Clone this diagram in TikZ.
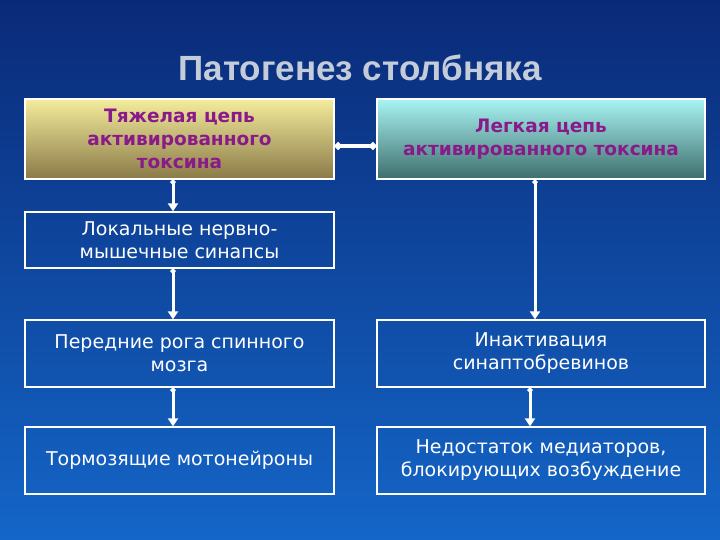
\documentclass[tikz,border=0pt]{standalone}
\usepackage{fontspec}
\setmainfont{DejaVu Sans}
\newfontfamily\titlefont{Liberation Sans}
\usetikzlibrary{arrows.meta}
\definecolor{bgtop}{HTML}{0A2A78}
\definecolor{bgbot}{HTML}{1466C8}
\definecolor{tt}{HTML}{8A1A8A}
\definecolor{gtop}{HTML}{F4EC9C}
\definecolor{gbot}{HTML}{8A7A48}
\definecolor{ctop}{HTML}{A8F4F4}
\definecolor{cbot}{HTML}{3E6E6C}
\definecolor{titlec}{HTML}{C4CCDA}
\tikzset{
  box/.style={draw=white,line width=1.2pt,minimum width=309pt,minimum height=67pt,align=center,text=white,font=\fontsize{19}{23}\selectfont,inner sep=1pt},
  top/.style={box,font=\bfseries\fontsize{18.5}{23}\selectfont,text=tt,minimum height=80pt},
  conn/.style={draw=white,line width=3pt,{Circle[length=5pt]}-{Triangle[length=8pt,width=10pt]}},
  link/.style={draw=white,line width=3.5pt,{Circle[length=7pt]}-{Circle[length=7pt]}}
}
\begin{document}
\begin{tikzpicture}[x=1pt,y=-1pt]
\shade[top color=bgtop,bottom color=bgbot] (0,0) rectangle (720,540);
\useasboundingbox (0,0) rectangle (720,540);
\node[font=\titlefont\bfseries\fontsize{35}{40}\selectfont,text=titlec] (title) at (360,68) {Патогенез столбняка};
\node[top,top color=gtop,bottom color=gbot,minimum width=309pt] (H) at (179.5,139) {Тяжелая цепь\\активированного\\токсина};
\node[top,top color=ctop,bottom color=cbot,minimum width=328pt] (L) at (541,139) {Легкая цепь\\активированного токсина};
\node[box,minimum height=56pt] (Lok) at (179.5,240) {Локальные нервно-\\мышечные синапсы};
\node[box] (Per) at (179.5,353.5) {Передние рога спинного\\мозга};
\node[box] (Tor) at (179.5,460.5) {Тормозящие мотонейроны};
\node[box,minimum width=328pt] (Ina) at (541,353.5) {Инактивация\\синаптобревинов};
\node[box,minimum width=328pt] (Ned) at (541,460.5) {Недостаток медиаторов,\\блокирующих возбуждение};
\draw[conn] (H.south -| 173,0) -- (Lok.north -| 173,0);
\draw[conn] (Lok.south -| 173,0) -- (Per.north -| 173,0);
\draw[conn] (Per.south -| 173,0) -- (Tor.north -| 173,0);
\draw[conn] (L.south -| 535,0) -- (Ina.north -| 535,0);
\draw[conn] (Ina.south -| 530,0) -- (Ned.north -| 530,0);
\draw[link] (H.east |- 0,146) -- (L.west |- 0,146);
\end{tikzpicture}
\end{document}
